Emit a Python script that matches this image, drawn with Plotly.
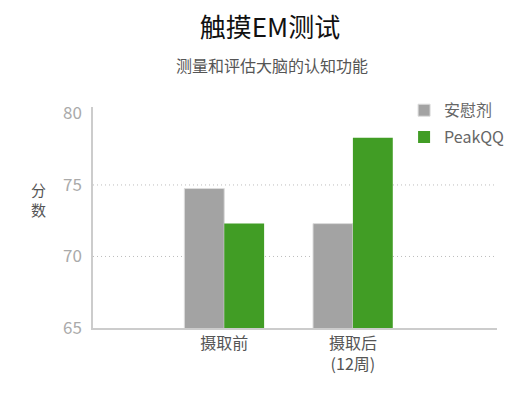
import plotly.graph_objects as go

# chart data
categories = ['摄取前', '摄取后<br>(12周)']
placebo = [74.75, 72.3]
peakqq = [72.3, 78.3]
y_ticks = [65, 70, 75, 80]
grid_vals = [70, 75]

font = 'Noto Sans CJK SC, Noto Sans, sans-serif'

fig = go.Figure()
fig.add_trace(go.Bar(x=categories, y=placebo, name='安慰剂', legendgroup='a',
                     marker=dict(color='#a3a3a3', line=dict(color='#dcdcdc', width=1))))
fig.add_trace(go.Bar(x=categories, y=peakqq, name='PeakQQ', legendgroup='b',
                     marker=dict(color='#419d25', line=dict(width=0))))

# dotted grid lines sit under the bars
for v in grid_vals:
    fig.add_shape(type='line', xref='paper', x0=0, x1=1, yref='y', y0=v, y1=v,
                  line=dict(color='#bdbdbd', width=1, dash='1px,3px'), layer='below')

fig.update_layout(
    width=527, height=401,
    margin=dict(l=93, r=30, t=107, b=73, autoexpand=False),
    plot_bgcolor='white', paper_bgcolor='white',
    font=dict(family=font, color='#555'),
    barmode='group', bargap=0.38, bargroupgap=0,
    showlegend=True,
    legend=dict(x=0.77, y=1.062, xanchor='left', yanchor='top',
                font=dict(size=16, color='#666'), itemwidth=30,
                traceorder='grouped', tracegroupgap=3,
                bgcolor='rgba(0,0,0,0)'),
    title=dict(text='触摸EM测试', x=0.438, xref='paper', xanchor='center',
               y=0.93, yanchor='middle', font=dict(size=26, color='#111')),
    annotations=[
        dict(text='测量和评估大脑的认知功能', xref='paper', yref='paper',
             x=0.443, y=1.19, xanchor='center', yanchor='middle',
             showarrow=False, font=dict(size=16, color='#555')),
        dict(text='分<br>数', xref='paper', yref='paper', x=-0.134, y=0.58,
             xanchor='center', yanchor='middle', showarrow=False,
             font=dict(size=15, color='#555')),
    ],
)
fig.update_xaxes(type='category', range=[-1.02, 2.12], showline=True,
                 linecolor='#cccccc', linewidth=2, ticks='', showgrid=False,
                 tickfont=dict(size=16, color='#555'), zeroline=False)
fig.update_yaxes(range=[65, 80.45], tickvals=y_ticks, showline=True,
                 linecolor='#cccccc', linewidth=1.5, ticks='', showgrid=False,
                 zeroline=False, ticklabelstandoff=6,
                 tickfont=dict(size=17, color='#aaa'))

fig.write_html('out.html', config={'displayModeBar': False},
               post_script="document.body.style.margin='0';")
